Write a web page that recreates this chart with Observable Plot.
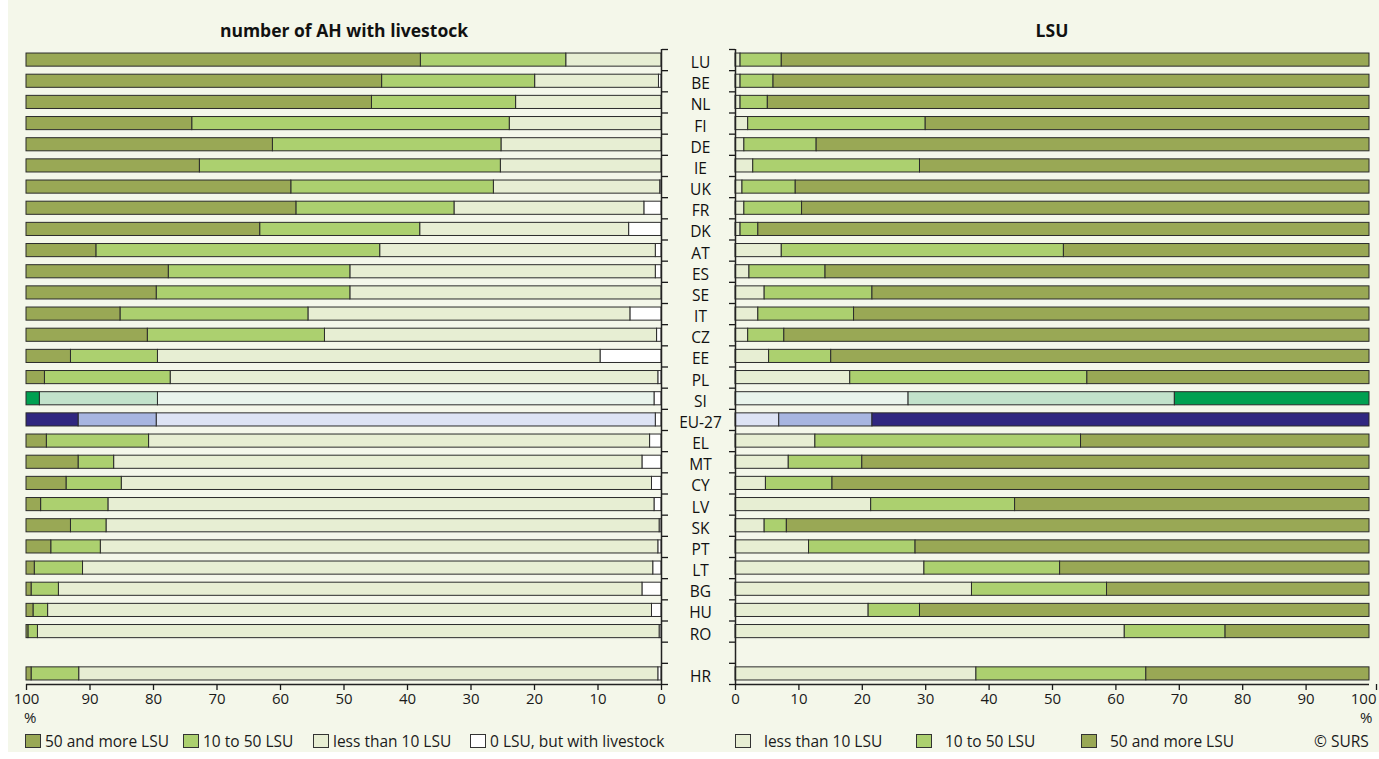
<!DOCTYPE html>
<html><head><meta charset="utf-8">
<script src="https://cdn.jsdelivr.net/npm/d3@7"></script>
<script src="https://cdn.jsdelivr.net/npm/@observablehq/plot@0.6"></script>
<style>
body{margin:0;background:#fff;font-family:"Open Sans",sans-serif;}
#wrap{position:relative;width:1379px;height:759px;overflow:hidden;}
#bg{position:absolute;left:8px;top:0;width:1371px;height:752px;background:#f4f7ea;}
.title{position:absolute;top:19px;font-weight:bold;font-size:17.5px;color:#111;transform:translateX(-50%);white-space:nowrap;line-height:22px}
.leg{position:absolute;top:731px;font-size:15.5px;color:#1a1a1a;display:flex;align-items:center;white-space:nowrap;line-height:20px}
.sw{display:inline-block;width:16px;height:14px;border:1px solid #333;box-sizing:border-box;margin-right:6px}
.pct{position:absolute;top:707px;font-size:15px;color:#1a1a1a;line-height:20px}
.panel{position:absolute;top:0}
</style></head><body>
<div id="wrap">
<div id="bg"></div>
<div class="title" style="left:344px">number of AH with livestock</div>
<div class="title" style="left:1052px">LSU</div>
<div id="left" class="panel" style="left:0"></div>
<div id="right" class="panel" style="left:680px"></div>
<div class="pct" style="left:24px">%</div>
<div class="pct" style="left:1360px">%</div>
<div id="legL"></div>
<div id="legR"></div>
<div class="leg" style="left:1314px">© SURS</div>
</div>
<script>
// rows ("" = gap before HR)
const countries = ["LU","BE","NL","FI","DE","IE","UK","FR","DK","AT","ES","SE","IT","CZ","EE","PL","SI","EU-27","EL","MT","CY","LV","SK","PT","LT","BG","HU","RO","","HR"];

// number of AH with livestock (%)
const ahZero = [0,0.4,0,0,0,0,0.2,2.7,5.1,0.9,0.9,0,4.9,0.7,9.6,0.5,1.1,0.9,1.8,3.0,1.5,1.1,0.3,0.5,1.3,3.0,1.5,0.3,null,0.5];
const ahLess = [15.0,19.5,22.9,23.9,25.2,25.3,26.2,29.9,32.9,43.4,48.1,49.0,50.7,52.3,69.7,76.8,78.2,78.6,78.9,83.2,83.5,86.0,87.1,87.8,89.8,91.9,95.1,97.9,null,91.2];
const ah10 = [22.9,24.1,22.7,50.0,36.0,47.4,31.9,24.9,25.2,44.7,28.6,30.5,29.6,27.9,13.7,19.8,18.6,12.3,16.1,5.6,8.7,10.6,5.6,7.8,7.6,4.3,2.3,1.5,null,7.5];
const ah50 = [62.1,56.0,54.4,26.1,38.8,27.3,41.7,42.5,36.8,11.0,22.4,20.5,14.8,19.1,7.0,2.9,2.1,8.2,3.2,8.2,6.3,2.3,7.0,3.9,1.3,0.8,1.1,0.3,null,0.8];

// LSU (%)
const lsuLess = [0.8,0.8,0.8,2.0,1.4,2.8,1.1,1.4,0.8,7.3,2.2,4.6,3.6,2.0,5.3,18.1,27.3,6.9,12.6,8.4,4.8,21.4,4.6,11.6,29.8,37.3,21.0,61.4,null,38.0];
const lsu10 = [6.5,5.2,4.3,28.0,11.4,26.3,8.4,9.1,2.8,44.5,12.0,17.0,15.1,5.7,9.8,37.4,42.0,14.7,41.9,11.6,10.5,22.7,3.5,16.8,21.4,21.3,8.1,15.9,null,26.8];
const lsu50 = [92.7,94.0,94.9,70.0,87.2,70.9,90.5,89.5,96.4,48.2,85.8,78.4,81.3,92.3,84.9,44.5,30.7,78.4,45.5,80.0,84.7,55.9,91.9,71.6,48.8,41.4,70.9,22.7,null,35.2];

const xTicks = [0,10,20,30,40,50,60,70,80,90,100];

// colours: [zero, less, 10-50, 50+]
const palettes = {
  default: ["#ffffff","#e7eed3","#acd06f","#99a855"],
  "SI": ["#ffffff","#e9f4ec","#c2e2cb","#00a051"],
  "EU-27": ["#ffffff","#dde3f4","#a7b5e0","#302780"]
};
const pal = c => palettes[c] || palettes.default;

function segments(series) {
  const out = [];
  countries.forEach((c, i) => {
    if (!c) return;
    let cum = 0;
    series.forEach(([arr, k]) => {
      const v = arr[i];
      if (!v) return;
      out.push({country: c, i, x1: cum, x2: cum + v, color: pal(c)[k]});
      cum += v;
    });
  });
  return out;
}
const leftSegs = segments([[ahZero,0],[ahLess,1],[ah10,2],[ah50,3]]);
const rightSegs = segments([[lsuLess,1],[lsu10,2],[lsu50,3]]);
const bounds = d3.range(countries.length + 1).map(k => k - 0.5);
const H = 730;
const style = {background: "transparent", fontFamily: "Open Sans, sans-serif", fontSize: "15px", color: "#1a1a1a", overflow: "visible"};
const yScale = {domain: [-0.5, countries.length - 0.5], reverse: true, axis: null};
const barOpts = {x1: "x1", x2: "x2", y1: d => d.i - 0.31, y2: d => d.i + 0.31, fill: "color", stroke: "#2b2b2b", strokeWidth: 1};

const left = Plot.plot({
  width: 700, height: H,
  marginLeft: 26, marginRight: 39, marginTop: 49, marginBottom: 46,
  x: {domain: [100, 0], axis: null},
  y: yScale,
  style,
  marks: [
    Plot.rectX(leftSegs, barOpts),
    Plot.ruleX([0], {stroke: "#222", strokeWidth: 1.5}),
    Plot.ruleY([countries.length - 0.5], {stroke: "#222", strokeWidth: 1.5}),
    Plot.axisY({ticks: bounds, anchor: "right", tickSize: 6, tickFormat: () => "", label: null, strokeWidth: 1.3}),
    Plot.axisX({ticks: xTicks, anchor: "bottom", tickSize: 6, tickPadding: 3, label: null, fontSize: 15, strokeWidth: 1.3})
  ]
});
document.getElementById("left").append(left);

const right = Plot.plot({
  width: 699, height: H,
  marginLeft: 55, marginRight: 10, marginTop: 49, marginBottom: 46,
  x: {domain: [0, 100], axis: null},
  y: yScale,
  style,
  marks: [
    Plot.rectX(rightSegs, barOpts),
    Plot.ruleX([0], {stroke: "#222", strokeWidth: 1.5}),
    Plot.ruleY([countries.length - 0.5], {stroke: "#222", strokeWidth: 1.5}),
    Plot.axisY({ticks: bounds, anchor: "left", tickSize: 6, tickFormat: () => "", label: null, strokeWidth: 1.3}),
    Plot.axisX({ticks: xTicks.slice(0, -1), anchor: "bottom", tickSize: 6, tickPadding: 3, label: null, fontSize: 15, strokeWidth: 1.3}),
    Plot.axisX({ticks: xTicks.slice(-1), anchor: "bottom", tickSize: 6, tickPadding: 3, label: null, fontSize: 15, strokeWidth: 1.3, textAnchor: "end", dx: 7}),
    Plot.text(countries.map((c, i) => ({c, i})).filter(d => d.c), {x: 0, y: "i", text: "c", dx: -35, dy: 3, textAnchor: "middle", fontSize: 15.5, fill: "#111"})
  ]
});
document.getElementById("right").append(right);

// legends
const legLeft = [["50 and more LSU", palettes.default[3], 25], ["10 to 50 LSU", palettes.default[2], 183], ["less than 10 LSU", palettes.default[1], 313], ["0 LSU, but with livestock", palettes.default[0], 470]];
const legRight = [["less than 10 LSU", palettes.default[1], 735], ["10 to 50 LSU", palettes.default[2], 916], ["50 and more LSU", palettes.default[3], 1081]];
function legend(id, items, gap) {
  const el = document.getElementById(id);
  items.forEach(([label, color, x]) => {
    const d = document.createElement("div");
    d.className = "leg";
    d.style.left = x + "px";
    d.innerHTML = `<span class="sw" style="background:${color};margin-right:${gap}px"></span>${label}`;
    el.append(d);
  });
}
legend("legL", legLeft, 4);
legend("legR", legRight, 13);
</script>
</body></html>
